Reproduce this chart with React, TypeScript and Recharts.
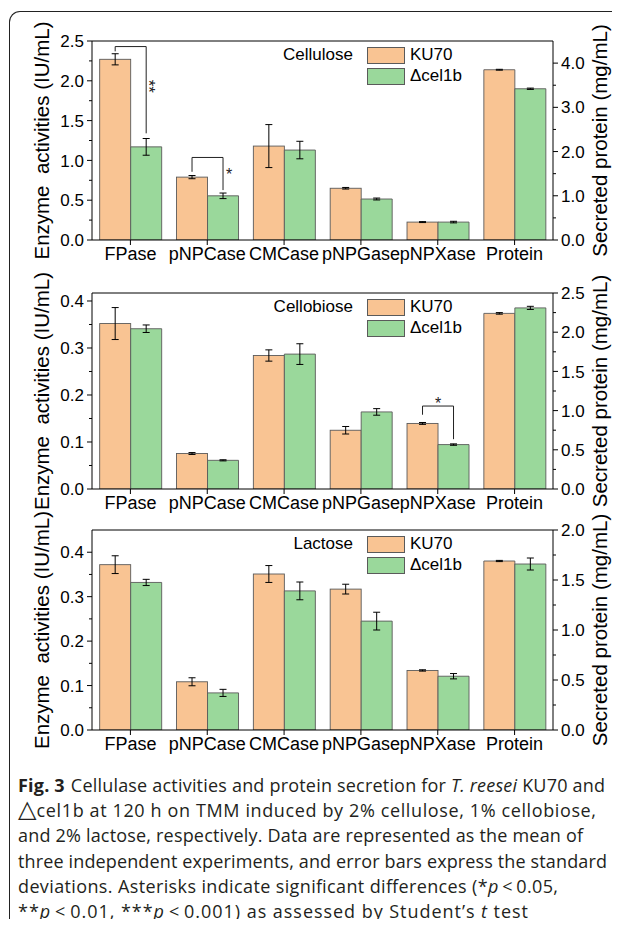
import React from 'react';
import { ComposedChart, Bar, XAxis, YAxis, ErrorBar, Legend, ReferenceLine } from 'recharts';

const categories = ['FPase', 'pNPCase', 'CMCase', 'pNPGase', 'pNPXase', 'Protein'];
const seriesNames = ['KU70', '\u0394cel1b'];

// Cellulose (activities IU/mL; Protein mg/mL on right axis)
const celluloseKU70 = [2.27, 0.79, 1.18, 0.65, 0.225, 3.85];
const celluloseKU70Err = [0.07, 0.02, 0.27, 0.01, 0.006, 0.01];
const celluloseCel1b = [1.17, 0.555, 1.13, 0.515, 0.225, 3.42];
const celluloseCel1bErr = [0.105, 0.035, 0.11, 0.012, 0.01, 0.015];

// Cellobiose
const cellobioseKU70 = [0.352, 0.0755, 0.284, 0.125, 0.1395, 2.24];
const cellobioseKU70Err = [0.034, 0.002, 0.012, 0.008, 0.002, 0.01];
const cellobioseCel1b = [0.341, 0.061, 0.287, 0.164, 0.0945, 2.31];
const cellobioseCel1bErr = [0.008, 0.0012, 0.022, 0.007, 0.0015, 0.02];

// Lactose
const lactoseKU70 = [0.372, 0.1085, 0.351, 0.317, 0.134, 1.69];
const lactoseKU70Err = [0.02, 0.009, 0.019, 0.011, 0.0015, 0.006];
const lactoseCel1b = [0.332, 0.0835, 0.313, 0.245, 0.121, 1.66];
const lactoseCel1bErr = [0.007, 0.008, 0.02, 0.02, 0.006, 0.06];

// Axis ticks
const celluloseLeftMajor = [0, 0.5, 1.0, 1.5, 2.0, 2.5];
const celluloseLeftMinor = [0.25, 0.75, 1.25, 1.75, 2.25];
const celluloseRightMajor = [0, 1.0, 2.0, 3.0, 4.0];
const celluloseRightMinor = [0.5, 1.5, 2.5, 3.5];
const cellobioseLeftMajor = [0, 0.1, 0.2, 0.3, 0.4];
const cellobioseLeftMinor = [0.05, 0.15, 0.25, 0.35];
const cellobioseRightMajor = [0, 0.5, 1.0, 1.5, 2.0, 2.5];
const cellobioseRightMinor = [0.25, 0.75, 1.25, 1.75, 2.25];
const lactoseLeftMajor = [0, 0.1, 0.2, 0.3, 0.4];
const lactoseLeftMinor = [0.05, 0.15, 0.25, 0.35];
const lactoseRightMajor = [0, 0.5, 1.0, 1.5, 2.0];
const lactoseRightMinor = [0.25, 0.75, 1.25, 1.75];

// Significance brackets (values on the activity axis)
const celluloseSig = [
  { category: 'FPase', top: 2.43, leftEnd: 2.37, rightEnd: 1.34, mark: '**', markAt: 1.93, pos: 'right' },
  { category: 'pNPCase', top: 1.037, leftEnd: 0.857, rightEnd: 0.627, mark: '*', markAt: 0.86, pos: 'right' },
];
const cellobioseSig = [
  { category: 'pNPXase', top: 0.1765, leftEnd: 0.158, rightEnd: 0.106, mark: '*', markAt: 0.19, pos: 'above' },
];
const lactoseSig: any[] = [];

const ORANGE = '#F9C493';
const GREEN = '#9AD89B';
const EDGE = '#5a5a5a';
const FONT = '"Liberation Sans", Arial, sans-serif';

function makeTick(majors: number[], side: 'left' | 'right') {
  return (props: any) => {
    const { x, y, payload } = props;
    const v = payload.value;
    const isMajor = majors.some((m) => Math.abs(m - v) < 1e-9);
    const axisX = side === 'left' ? x + 8 : x - 8;
    const len = isMajor ? 5 : 3;
    const x2 = side === 'left' ? axisX - len : axisX + len;
    return (
      <g>
        <line x1={axisX} y1={y} x2={x2} y2={y} stroke="#000" strokeWidth={1} />
        {isMajor && (
          <text
            x={x}
            y={y}
            dy="0.36em"
            textAnchor={side === 'left' ? 'end' : 'start'}
            fontSize={17}
            fontFamily={FONT}
            fill="#000"
          >
            {v.toFixed(1)}
          </text>
        )}
      </g>
    );
  };
}

function makeKuShape(sig: any[]) {
  return (props: any) => {
    const { x, y, width, height, payload } = props;
    if (!height || height <= 0 || payload.ku == null) return null;
    const ppu = height / payload.ku;
    const base = y + height;
    const toY = (v: number) => base - v * ppu;
    const s = sig.find((d) => d.category === payload.cat);
    const lx = x + width / 2;
    const rx = x + width * 1.5;
    return (
      <g>
        <rect x={x} y={y} width={width} height={height} fill={ORANGE} stroke={EDGE} strokeWidth={0.9} />
        {s && (
          <g>
            <polyline
              points={`${lx},${toY(s.leftEnd)} ${lx},${toY(s.top)} ${rx},${toY(s.top)} ${rx},${toY(s.rightEnd)}`}
              fill="none"
              stroke="#222"
              strokeWidth={1}
            />
            {s.pos === 'right' && s.mark === '**' && (
              <text
                x={rx - 3}
                y={toY(s.markAt)}
                transform={`rotate(90 ${rx - 3} ${toY(s.markAt)})`}
                textAnchor="middle"
                fontSize={17}
                fontFamily={FONT}
                fill="#222"
              >
                {s.mark}
              </text>
            )}
            {s.pos === 'right' && s.mark === '*' && (
              <text x={rx + 6} y={toY(s.markAt) + 8} textAnchor="middle" fontSize={16} fontFamily={FONT} fill="#222">
                {s.mark}
              </text>
            )}
            {s.pos === 'above' && (
              <text x={(lx + rx) / 2} y={toY(s.markAt) + 9} textAnchor="middle" fontSize={16} fontFamily={FONT} fill="#222">
                {s.mark}
              </text>
            )}
          </g>
        )}
      </g>
    );
  };
}

function makeLegend(title: string) {
  return (props: any) => {
    const items = (props.payload || []).filter((p: any) => seriesNames.includes(p.value));
    return (
      <div style={{ position: 'relative', fontFamily: FONT, fontSize: 17, color: '#000' }}>
        <div style={{ position: 'absolute', right: 'calc(100% + 14px)', top: 0, height: 18, lineHeight: '18px', whiteSpace: 'nowrap' }}>
          {title}
        </div>
        {items.map((p: any) => (
          <div key={p.value} style={{ display: 'flex', alignItems: 'center', height: 18, marginBottom: 3, whiteSpace: 'nowrap' }}>
            <div style={{ width: 38, height: 17, background: p.color, border: `1px solid ${EDGE}`, boxSizing: 'border-box', marginRight: 5 }} />
            <span>{p.value}</span>
          </div>
        ))}
      </div>
    );
  };
}

type PanelProps = {
  top: number;
  bottom: number;
  title: string;
  ku: number[];
  kuErr: number[];
  cel: number[];
  celErr: number[];
  leftMax: number;
  leftMajor: number[];
  leftMinor: number[];
  rightMax: number;
  rightMajor: number[];
  rightMinor: number[];
  sig: any[];
};

function Panel(p: PanelProps) {
  const data = categories.map((cat, i) => {
    const isP = cat === 'Protein';
    return {
      cat,
      ku: isP ? null : p.ku[i],
      kuErr: isP ? undefined : p.kuErr[i],
      cel: isP ? null : p.cel[i],
      celErr: isP ? undefined : p.celErr[i],
      kuP: isP ? p.ku[i] : null,
      kuPErr: isP ? p.kuErr[i] : undefined,
      celP: isP ? p.cel[i] : null,
      celPErr: isP ? p.celErr[i] : undefined,
    };
  });
  const mt = 30;
  const xh = 30;
  const mb = 6;
  const h = p.bottom - p.top + mt + xh + mb;
  const leftTicks = [...p.leftMajor, ...p.leftMinor].sort((a, b) => a - b);
  const rightTicks = [...p.rightMajor, ...p.rightMinor].sort((a, b) => a - b);
  return (
    <div style={{ position: 'absolute', left: 0, top: p.top - mt }}>
      <ComposedChart
        width={620}
        height={h}
        data={data}
        margin={{ top: mt, right: 17, bottom: mb, left: 42 }}
        barCategoryGap="10%"
        barGap={0}
      >
        <XAxis
          dataKey="cat"
          interval={0}
          tickSize={5}
          tickMargin={2}
          height={xh}
          axisLine={{ stroke: '#000' }}
          tickLine={{ stroke: '#000' }}
          tick={{ fontSize: 18, fill: '#000', fontFamily: FONT }}
        />
        <YAxis
          yAxisId="left"
          type="number"
          domain={[0, p.leftMax]}
          allowDataOverflow
          ticks={leftTicks}
          interval={0}
          width={50}
          tickSize={5}
          tickMargin={3}
          tickLine={false}
          axisLine={{ stroke: '#000' }}
          tick={makeTick(p.leftMajor, 'left')}
          label={{
            value: 'Enzyme\u00A0 activities (IU/mL)',
            angle: -90,
            position: 'center',
            dx: -25,
            style: { fontSize: 20.5, fill: '#000', fontFamily: FONT },
          }}
        />
        <YAxis
          yAxisId="right"
          orientation="right"
          type="number"
          domain={[0, p.rightMax]}
          allowDataOverflow
          ticks={rightTicks}
          interval={0}
          width={50}
          tickSize={5}
          tickMargin={3}
          tickLine={false}
          axisLine={{ stroke: '#000' }}
          tick={makeTick(p.rightMajor, 'right')}
          label={{
            value: 'Secreted protein (mg/mL)',
            angle: -90,
            position: 'center',
            dx: 22,
            style: { fontSize: 20.5, fill: '#000', fontFamily: FONT },
          }}
        />
        <ReferenceLine yAxisId="left" y={p.leftMax} stroke="#000" strokeWidth={1} />
        <Legend
          layout="vertical"
          align="center"
          verticalAlign="middle"
          content={makeLegend(p.title)}
          wrapperStyle={{ left: 367, top: mt + 5, width: 'auto', height: 'auto' }}
        />
        <Bar
          dataKey="ku"
          name={seriesNames[0]}
          yAxisId="left"
          stackId="k"
          fill={ORANGE}
          shape={makeKuShape(p.sig)}
          isAnimationActive={false}
        >
          <ErrorBar dataKey="kuErr" width={3.5} stroke="#000" strokeWidth={1} />
        </Bar>
        <Bar
          dataKey="cel"
          name={seriesNames[1]}
          yAxisId="left"
          stackId="c"
          fill={GREEN}
          stroke={EDGE}
          strokeWidth={0.9}
          isAnimationActive={false}
        >
          <ErrorBar dataKey="celErr" width={3.5} stroke="#000" strokeWidth={1} />
        </Bar>
        <Bar
          dataKey="kuP"
          yAxisId="right"
          stackId="k"
          fill={ORANGE}
          stroke={EDGE}
          strokeWidth={0.9}
          legendType="none"
          isAnimationActive={false}
        >
          <ErrorBar dataKey="kuPErr" width={3.5} stroke="#000" strokeWidth={1} />
        </Bar>
        <Bar
          dataKey="celP"
          yAxisId="right"
          stackId="c"
          fill={GREEN}
          stroke={EDGE}
          strokeWidth={0.9}
          legendType="none"
          isAnimationActive={false}
        >
          <ErrorBar dataKey="celPErr" width={3.5} stroke="#000" strokeWidth={1} />
        </Bar>
      </ComposedChart>
    </div>
  );
}

const captionFont = '"Open Sans", "Noto Sans", sans-serif';

function Caption() {
  const common = { x: 18, lengthAdjust: 'spacing' as const };
  return (
    <svg width={620} height={155} style={{ position: 'absolute', left: 0, top: 768 }}>
      <g fontFamily={captionFont} fontSize={18} fill="#231f20">
        <text {...common} y={24} textLength={587}>
          <tspan fontWeight="bold">Fig. 3</tspan>
          <tspan dx={6}>Cellulase activities and protein secretion for </tspan>
          <tspan fontStyle="italic">T. reesei</tspan>
          <tspan> KU70 and</tspan>
        </text>
        <text {...common} y={49.2} textLength={578}>
          <tspan fontSize={24} fontFamily='"DejaVu Sans", sans-serif' fontWeight={200}>△</tspan>
          <tspan>cel1b at 120 h on TMM induced by 2% cellulose, 1% cellobiose,</tspan>
        </text>
        <text {...common} y={74.4} textLength={565}>
          and 2% lactose, respectively. Data are represented as the mean of
        </text>
        <text {...common} y={99.6} textLength={589}>
          three independent experiments, and error bars express the standard
        </text>
        <text {...common} y={124.8} textLength={540}>
          <tspan>deviations. Asterisks indicate significant differences (*</tspan>
          <tspan fontStyle="italic">p</tspan>
          <tspan>{'\u2009<\u20090.05,'}</tspan>
        </text>
        <text {...common} y={150} textLength={510}>
          <tspan>**</tspan>
          <tspan fontStyle="italic">p</tspan>
          <tspan>{'\u2009<\u20090.01, ***'}</tspan>
          <tspan fontStyle="italic">p</tspan>
          <tspan>{'\u2009<\u20090.001) as assessed by Student\u2019s '}</tspan>
          <tspan fontStyle="italic">t</tspan>
          <tspan> test</tspan>
        </text>
      </g>
    </svg>
  );
}

export default function App() {
  return (
    <div style={{ position: 'relative', width: 620, height: 927, margin: '-8px', overflow: 'hidden', background: '#fff' }}>
      <div
        style={{
          position: 'absolute',
          left: 9,
          top: 11,
          width: 611,
          height: 916,
          borderTop: '1.2px solid #222',
          borderLeft: '1.2px solid #222',
          borderTopLeftRadius: 11,
          boxSizing: 'border-box',
        }}
      />
      <Panel
        top={41}
        bottom={240}
        title="Cellulose"
        ku={celluloseKU70}
        kuErr={celluloseKU70Err}
        cel={celluloseCel1b}
        celErr={celluloseCel1bErr}
        leftMax={2.5}
        leftMajor={celluloseLeftMajor}
        leftMinor={celluloseLeftMinor}
        rightMax={4.5}
        rightMajor={celluloseRightMajor}
        rightMinor={celluloseRightMinor}
        sig={celluloseSig}
      />
      <Panel
        top={293}
        bottom={489}
        title="Cellobiose"
        ku={cellobioseKU70}
        kuErr={cellobioseKU70Err}
        cel={cellobioseCel1b}
        celErr={cellobioseCel1bErr}
        leftMax={0.417}
        leftMajor={cellobioseLeftMajor}
        leftMinor={cellobioseLeftMinor}
        rightMax={2.5}
        rightMajor={cellobioseRightMajor}
        rightMinor={cellobioseRightMinor}
        sig={cellobioseSig}
      />
      <Panel
        top={530}
        bottom={730}
        title="Lactose"
        ku={lactoseKU70}
        kuErr={lactoseKU70Err}
        cel={lactoseCel1b}
        celErr={lactoseCel1bErr}
        leftMax={0.45}
        leftMajor={lactoseLeftMajor}
        leftMinor={lactoseLeftMinor}
        rightMax={2.0}
        rightMajor={lactoseRightMajor}
        rightMinor={lactoseRightMinor}
        sig={lactoseSig}
      />
      <Caption />
    </div>
  );
}
